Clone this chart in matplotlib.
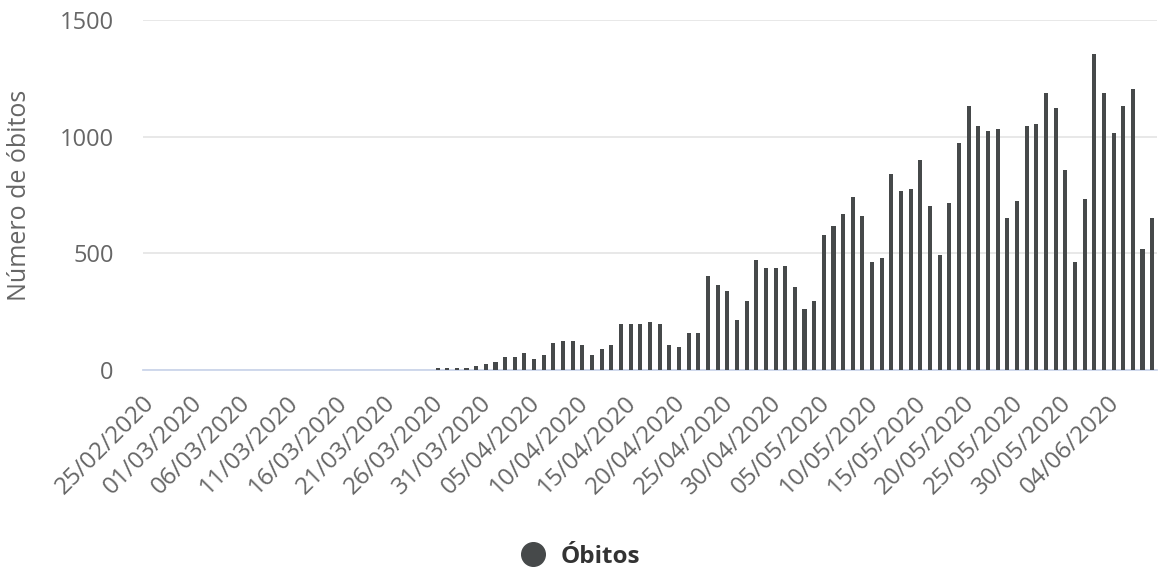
import numpy as np
import pandas as pd
import matplotlib
matplotlib.use('Agg')
import matplotlib.pyplot as plt
import matplotlib.transforms as mtransforms
from matplotlib.lines import Line2D

plt.rcParams['font.family'] = ['Open Sans', 'DejaVu Sans']

# daily categories, 25/02/2020 .. 08/06/2020
dates = pd.date_range('2020-02-25', '2020-06-08', freq='D')
date_labels = [d.strftime('%d/%m/%Y') for d in dates]

# deaths per day
obitos = [
    0, 0, 0, 0, 0, 0, 0, 0, 0, 0,           # 25/02 - 05/03
    0, 0, 0, 0, 0, 0, 0, 0, 0, 0,           # 06/03 - 15/03
    0, 0, 0, 0, 0, 0, 0, 0, 0, 0,           # 16/03 - 25/03
    10, 10, 10, 10, 19, 27, 36, 56, 56, 73,  # 26/03 - 04/04
    46, 64, 117, 126, 126, 109, 64, 90, 106, 196,  # 05/04 - 14/04
    196, 196, 206, 196, 106, 97, 160, 160, 401, 366,  # 15/04 - 24/04
    339, 214, 294, 471, 436, 436, 446, 357, 260, 296,  # 25/04 - 04/05
    580, 616, 670, 741, 660, 464, 481, 840, 767, 776,  # 05/05 - 14/05
    901, 704, 491, 714, 973, 1133, 1044, 1026, 1034, 651,  # 15/05 - 24/05
    723, 1044, 1053, 1187, 1124, 857, 464, 731, 1356, 1187,  # 25/05 - 03/06
    1017, 1133, 1204, 519, 651,              # 04/06 - 08/06
]

bar_color = '#46494a'
text_color = '#666666'

fig = plt.figure(figsize=(11.58, 5.72), dpi=100)
ax = fig.add_axes([143 / 1158, 1 - 370 / 572, 1014 / 1158, 350 / 572])

x = np.arange(len(dates))
ax.bar(x, obitos, width=0.42, color=bar_color, zorder=3)

ax.set_xlim(-0.5, len(dates) - 0.5)
ax.set_ylim(0, 1500)
ax.set_yticks([0, 500, 1000, 1500])
ax.yaxis.grid(True, color='#e6e6e6', linewidth=1.3, zorder=0)

for s in ['top', 'right', 'left']:
    ax.spines[s].set_visible(False)
ax.spines['bottom'].set_color('#ccd6eb')
ax.spines['bottom'].set_linewidth(1.3)

ax.set_xticks(x[::5])
ax.set_xticklabels(date_labels[::5], rotation=45, ha='right',
                   rotation_mode='anchor', fontsize=17.5, color=text_color)
ax.tick_params(axis='x', length=0, pad=15)
# nudge the rotated labels a little to the left
shift = mtransforms.ScaledTranslation(-6 / 100, 0, fig.dpi_scale_trans)
for lbl in ax.get_xticklabels():
    lbl.set_transform(lbl.get_transform() + shift)
ax.tick_params(axis='y', length=0, pad=21, labelsize=17, labelcolor=text_color)

ax.set_ylabel('Número de óbitos', fontsize=18, color=text_color, labelpad=20)

handle = Line2D([], [], marker='o', linestyle='', color=bar_color, markersize=17)
fig.legend([handle], ['Óbitos'], loc='center', bbox_to_anchor=(0.496, 0.027),
           frameon=False, handletextpad=0.15,
           prop={'weight': 'bold', 'size': 17.5}, labelcolor='#333333')

plt.savefig('out.png', dpi=100)
